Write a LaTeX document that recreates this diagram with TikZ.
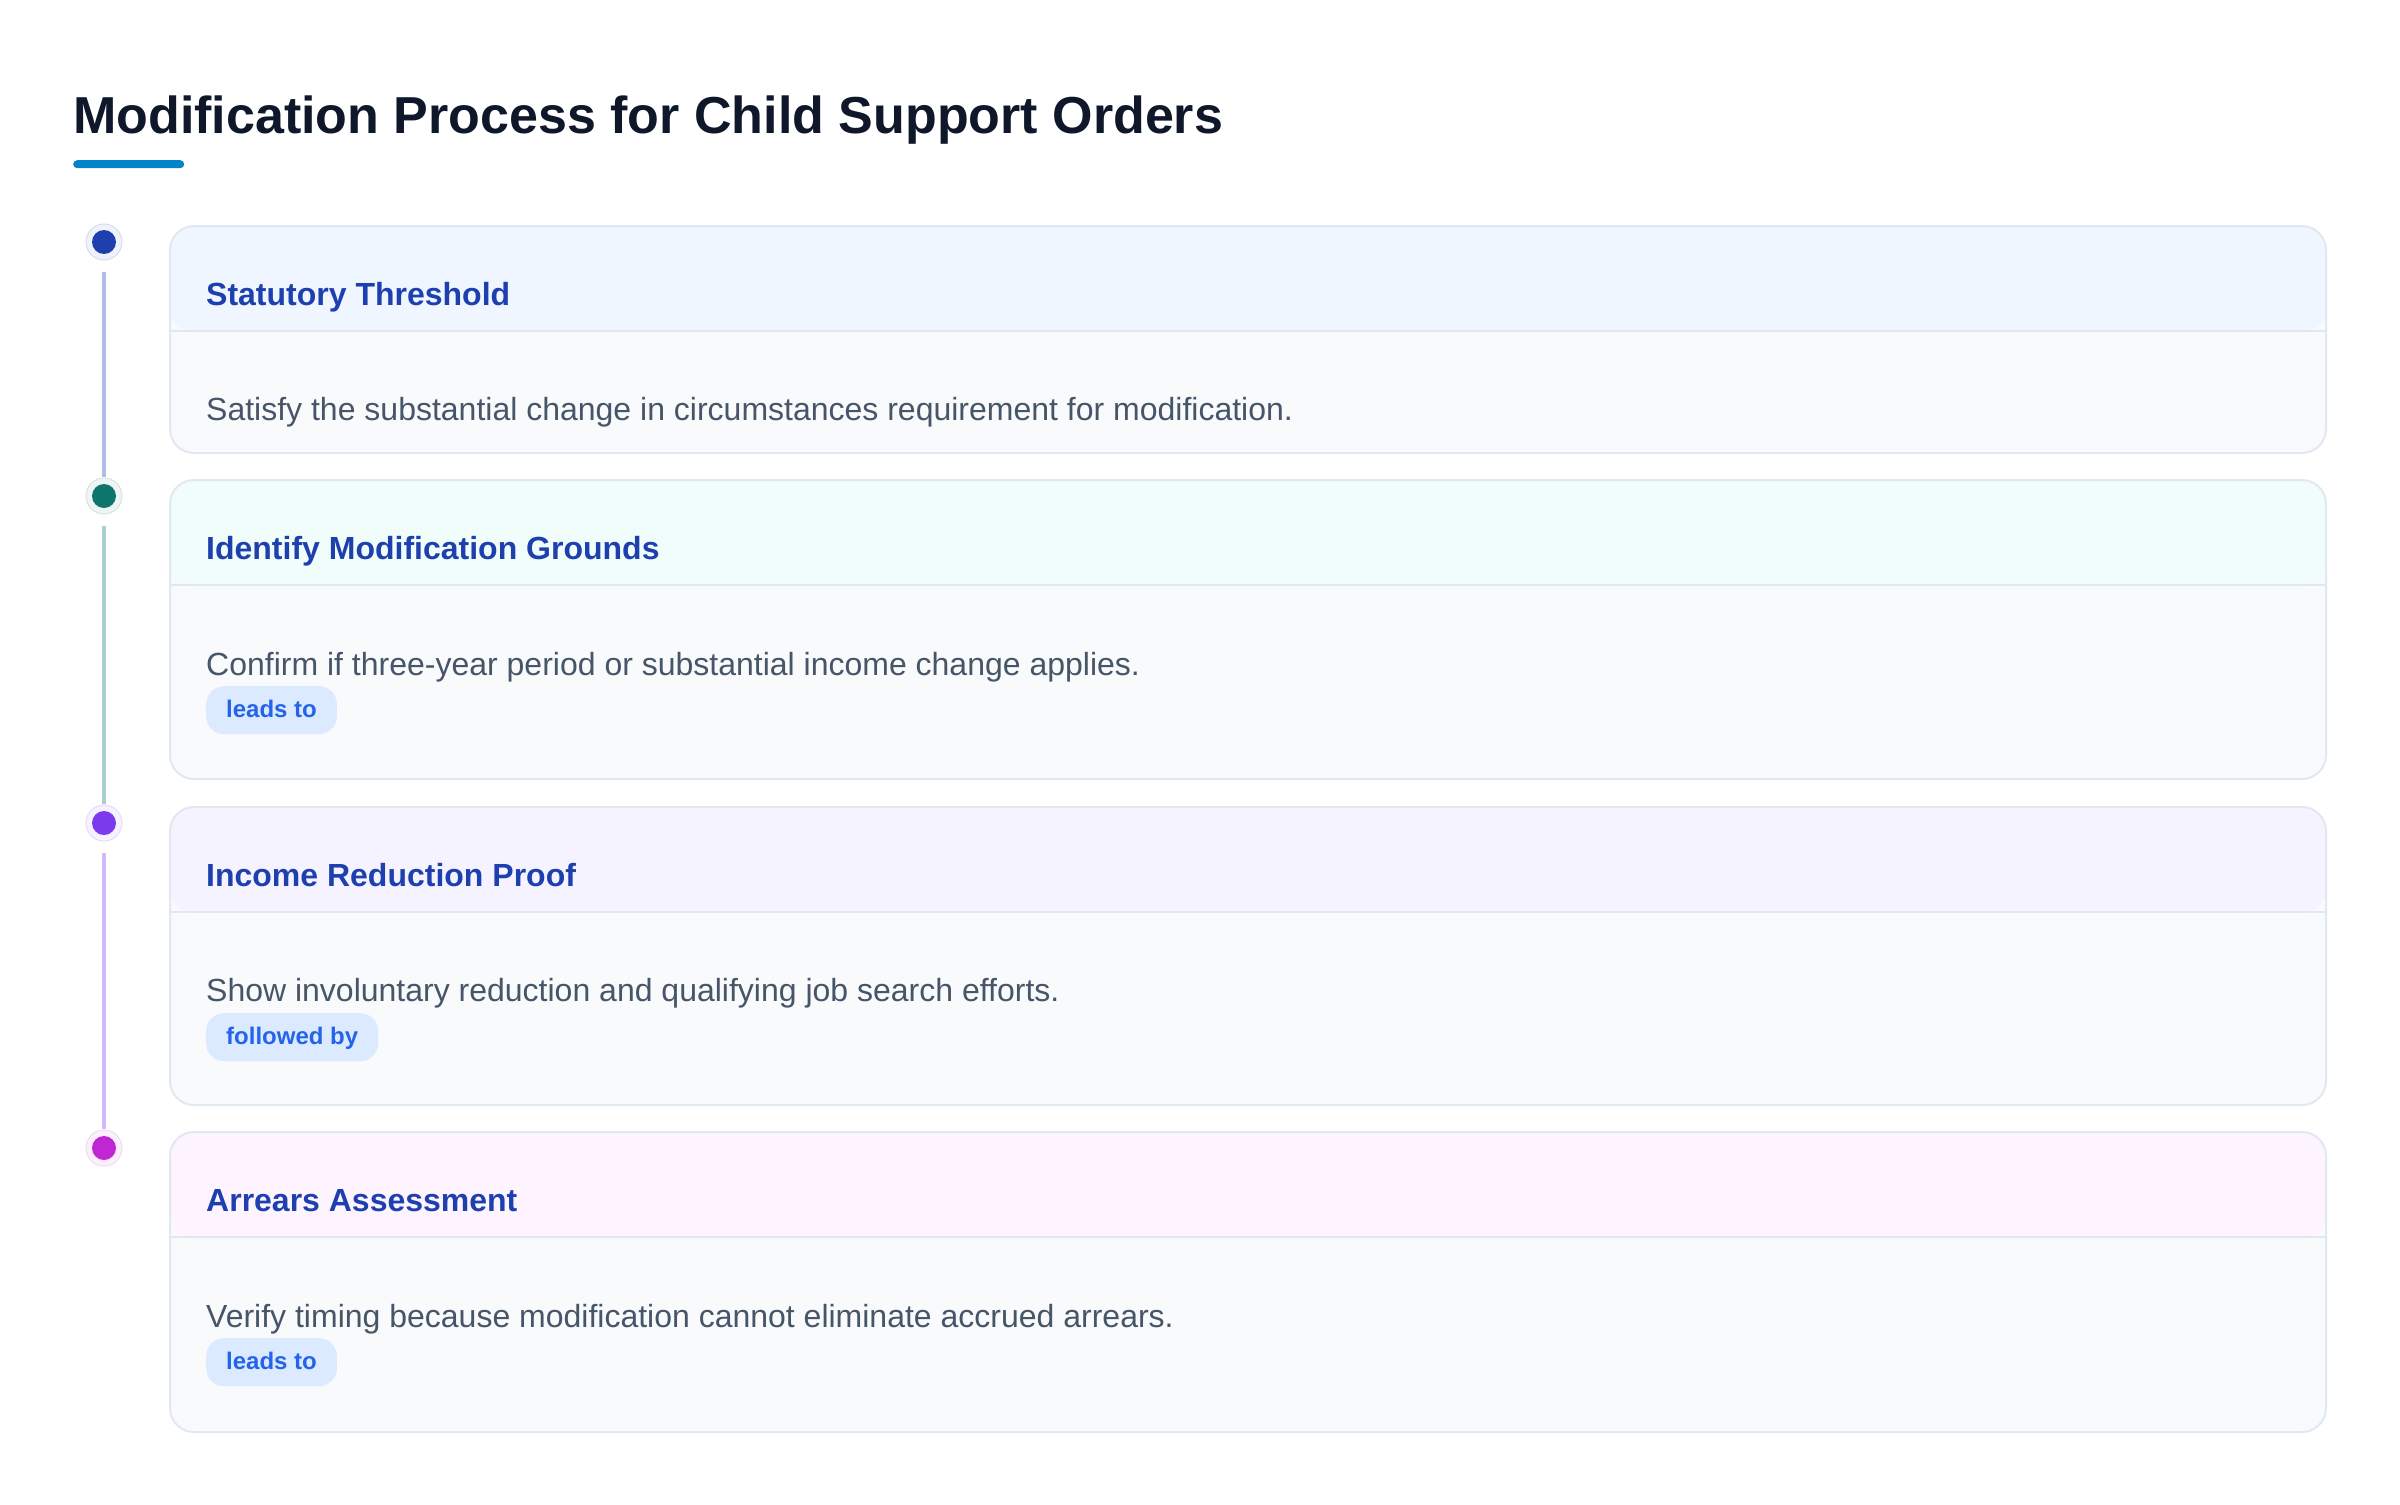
\documentclass[tikz,border=0pt]{standalone}
\usepackage{fontspec}
\setmainfont{Liberation Sans}
\definecolor{titlec}{HTML}{0F172A}
\definecolor{barc}{HTML}{0284C7}
\definecolor{hdrtxt}{HTML}{1E40AF}
\definecolor{bodytxt}{HTML}{475569}
\definecolor{bodybg}{HTML}{F8FAFC}
\definecolor{borderc}{HTML}{E2E8F0}
\definecolor{badgebg}{HTML}{DBEAFE}
\definecolor{badgetxt}{HTML}{2563EB}
\definecolor{dotA}{HTML}{1E40AF}
\definecolor{dotB}{HTML}{0F766E}
\definecolor{dotC}{HTML}{7C3AED}
\definecolor{dotD}{HTML}{C026D3}
\definecolor{hdrA}{HTML}{EFF6FF}
\definecolor{hdrB}{HTML}{F0FDFA}
\definecolor{hdrC}{HTML}{F5F3FF}
\definecolor{hdrD}{HTML}{FDF4FF}
\tikzset{
  card/.style={rectangle, rounded corners=24pt, draw=borderc, line width=2pt,
    fill=bodybg, minimum width=2156pt, inner sep=0pt, anchor=north west,
    path picture={\fill[#1] (path picture bounding box.north west) rectangle
      ([yshift=-106pt]path picture bounding box.north east);}},
  tdot/.style={circle, minimum size=36pt, inner sep=0pt, fill=#1!7!white,
    draw=#1!18!white, line width=1pt,
    path picture={\fill[#1] (path picture bounding box.center) circle (12pt);}},
  tline/.style={line width=4pt, draw=#1!35!white},
  divider/.style={draw=borderc, line width=2pt},
  hdrtext/.style={anchor=base west, inner sep=0pt, text=hdrtxt,
    font=\fontsize{32}{38}\selectfont\bfseries},
  bodytext/.style={anchor=base west, inner sep=0pt, text=bodytxt,
    font=\fontsize{32}{38}\selectfont},
  badge/.style={anchor=north west, rounded corners=18pt, fill=badgebg,
    text=badgetxt, font=\fontsize{24}{28}\selectfont\bfseries,
    inner xsep=20pt, inner ysep=0pt, minimum height=48pt,
    text height=18pt, text depth=4pt}
}
\begin{document}
\begin{tikzpicture}[x=1pt,y=-1pt]
\fill[white] (0,0) rectangle (2400,1504);
\useasboundingbox (0,0) rectangle (2400,1504);

% title
\node[anchor=base west, inner sep=0pt, text=titlec,
  font=\fontsize{52}{62}\selectfont\bfseries] (title) at (73,133)
  {Modification Process for Child Support Orders};
\node[fill=barc, rounded corners=4pt, minimum width=111pt, minimum height=8pt,
  inner sep=0pt, anchor=north west] (bar) at (73,160) {};

% cards
\node[card=hdrA, minimum height=227pt] (c1) at (169,225) {};
\node[card=hdrB, minimum height=299pt] (c2) at (169,479) {};
\node[card=hdrC, minimum height=298pt] (c3) at (169,806) {};
\node[card=hdrD, minimum height=300pt] (c4) at (169,1131) {};

\foreach \c in {c1,c2,c3,c4}{
  \draw[divider] ([yshift=-106pt]\c.north west) -- ([yshift=-106pt]\c.north east);
}

% headers
\node[hdrtext] (h1) at (206,305) {Statutory Threshold};
\node[hdrtext] (h2) at (206,559) {Identify Modification Grounds};
\node[hdrtext] (h3) at (206,886) {Income Reduction Proof};
\node[hdrtext] (h4) at (206,1211) {Arrears Assessment};

% bodies
\node[bodytext] (b1) at (206,420) {Satisfy the substantial change in circumstances requirement for modification.};
\node[bodytext] (b2) at (206,675) {Confirm if three-year period or substantial income change applies.};
\node[bodytext] (b3) at (206,1001) {Show involuntary reduction and qualifying job search efforts.};
\node[bodytext] (b4) at (206,1327) {Verify timing because modification cannot eliminate accrued arrears.};

% badges
\node[badge] (g2) at (206,686) {leads to};
\node[badge] (g3) at (206,1013) {followed by};
\node[badge] (g4) at (206,1338) {leads to};

% timeline dots
\node[tdot=dotA] (d1) at (104,242) {};
\node[tdot=dotB] (d2) at (104,496) {};
\node[tdot=dotC] (d3) at (104,823) {};
\node[tdot=dotD] (d4) at (104,1148) {};

% timeline lines
\draw[tline=dotA] ([yshift=-30pt]d1.center) -- ([yshift=19pt]d2.center);
\draw[tline=dotB] ([yshift=-30pt]d2.center) -- ([yshift=19pt]d3.center);
\draw[tline=dotC] ([yshift=-30pt]d3.center) -- ([yshift=19pt]d4.center);
\end{tikzpicture}
\end{document}
